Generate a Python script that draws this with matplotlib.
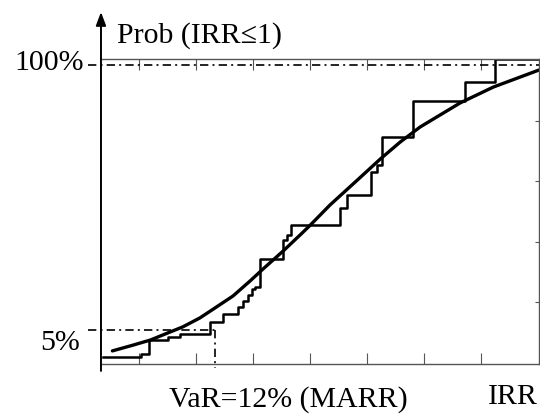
import matplotlib
matplotlib.use('Agg')
import matplotlib.pyplot as plt

plt.rcParams['font.family'] = ['Liberation Serif', 'DejaVu Serif']

# smooth fitted CDF (IRR in %, probability in %)
curve_irr = [1.2, 3.4, 5.2, 7.0, 8.6, 10.4, 12.0, 13.9, 15.7, 17.1, 19.2, 21.0,
             22.0, 24.1, 27.0, 29.4, 31.5, 33.6, 35.7, 37.8, 41.3, 46.1]
curve_prob = [-2.5, -0.4, 1.4, 3.9, 6.1, 9.3, 12.9, 17.2, 22.6, 27.0, 33.4, 39.2,
              42.5, 49.8, 58.8, 66.3, 72.4, 77.8, 82.1, 86.4, 92.1, 98.2]

# empirical (step) CDF: start of each level and its height
step_irr = [0.2, 4.2, 5.05, 7.05, 8.3, 11.5, 12.8, 14.4, 14.95, 15.5, 15.9, 16.2,
            16.7, 19.2, 19.6, 20.0, 25.2, 25.9, 28.4, 29.05, 29.6, 32.8, 38.3, 41.5, 46.1]
step_prob = [-4.6, -3.6, 1.4, 2.5, 3.6, 7.9, 10.7, 13.2, 15.4, 17.6, 19.7, 20.4,
             30.4, 37.3, 39.1, 42.7, 48.7, 53.4, 61.6, 64.2, 74.2, 87.1, 93.9, 102.3, 102.3]

var_irr = 12
var_prob = 5
x_ticks = [4, 10, 16, 22, 28, 34, 40]
y_ticks = [14.9, 36.7, 58.4, 80.0]

fig = plt.figure(figsize=(5.4, 4.15), dpi=100)
ax = fig.add_axes([0.187, 0.1217, 0.8111, 0.7373])
ax.set_xlim(0, 46.1)
ax.set_ylim(-7.37, 102.33)

ax.plot(curve_irr, curve_prob, color='black', lw=2.4, solid_capstyle='round',
        solid_joinstyle='round')
ax.step(step_irr, step_prob, where='post', color='black', lw=1.8)

dd = (0, (5, 2.5, 1.2, 2.5))
ax.plot([-1.4, 46.1], [100, 100], color='black', lw=1.2, linestyle=dd, clip_on=False)
ax.plot([-1.4, var_irr], [var_prob, var_prob], color='black', lw=1.2, linestyle=dd, clip_on=False)
ax.plot([var_irr, var_irr], [var_prob, -8.8], color='black', lw=1.2, linestyle=dd, clip_on=False)

for s in ['top', 'right', 'bottom']:
    ax.spines[s].set_color('#555555')
    ax.spines[s].set_linewidth(1.0)
ax.spines['left'].set_visible(False)

ax.set_xticks(x_ticks)
ax.tick_params(axis='x', direction='in', top=True, bottom=True, length=8,
               width=0.8, color='#555555', labelbottom=False)
ax.yaxis.tick_right()
ax.set_yticks(y_ticks)
ax.tick_params(axis='y', direction='in', length=3, width=0.8, color='#555555',
               labelright=False, left=False)

# y axis with arrow
ax.annotate('', xy=(0, 1.152), xytext=(0, -0.021), xycoords='axes fraction',
            arrowprops=dict(arrowstyle='-|>,head_length=0.8,head_width=0.3',
                            lw=1.4, color='black', mutation_scale=10,
                            shrinkA=0, shrinkB=0))

fs = 21.5
W, H = 540, 415
fig.text(117 / W, 1 - 43 / H, 'Prob (IRR≤1)', fontsize=fs, va='baseline', ha='left')
fig.text(84 / W, 1 - 70 / H, '100%', fontsize=fs, va='baseline', ha='right')
fig.text(80 / W, 1 - 350 / H, '5%', fontsize=fs, va='baseline', ha='right')
fig.text(288 / W, 1 - 407 / H, 'VaR=12% (MARR)', fontsize=fs, va='baseline', ha='center')
fig.text(538 / W, 1 - 404 / H, 'IRR', fontsize=fs, va='baseline', ha='right')

fig.savefig('out.png', dpi=100)
